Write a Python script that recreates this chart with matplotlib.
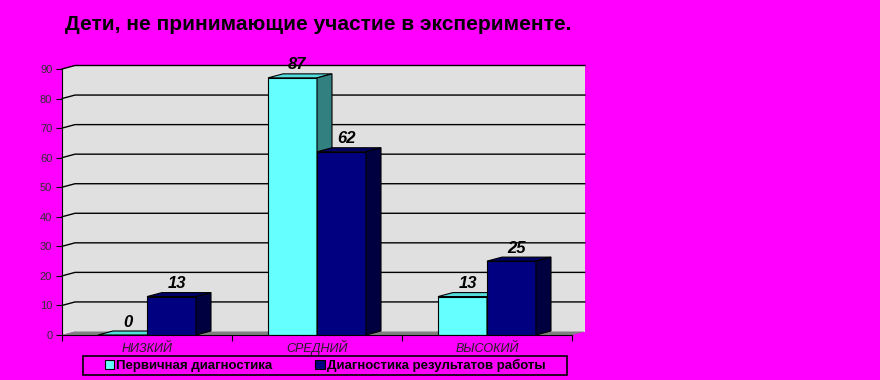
import matplotlib
matplotlib.use('Agg')
import matplotlib.pyplot as plt
from matplotlib.patches import Polygon, Patch, Rectangle
import numpy as np

categories = ['НИЗКИЙ', 'СРЕДНИЙ', 'ВЫСОКИЙ']
series_names = ['Первичная диагностика', 'Диагностика результатов работы']
first_diag = [0, 87, 13]
result_diag = [13, 62, 25]
yticks = [0, 10, 20, 30, 40, 50, 60, 70, 80, 90]

MAGENTA = '#FF00FF'
WALL = '#E0E0E0'
FLOOR = '#808080'
# front, top, side
CYAN = ('#66FFFF', '#55DDDD', '#338080')
NAVY = ('#000080', '#000066', '#000040')

plt.rcParams['font.family'] = ['Liberation Sans', 'DejaVu Sans']

W, H = 880, 380
fig = plt.figure(figsize=(W / 100, H / 100), dpi=100, facecolor=MAGENTA)
ax = fig.add_axes([62 / W, 45 / H, 510 / W, 266 / H])
ax.set_facecolor('none')
ax.set_xlim(-0.5, 2.5)
ax.set_ylim(0, 90)

# pixel -> data scales
px_x = 3 / 510
px_y = 90 / 266
wdx, wdy = 13 * px_x, 3.5 * px_y   # wall depth
bdx, bdy = 15 * px_x, 4 * px_y     # bar depth
bw = 49 * px_x

x0, x1 = ax.get_xlim()
y0, y1 = ax.get_ylim()

# back wall, side wall, floor
ax.add_patch(Polygon([(x0 + wdx, y0 + wdy), (x1 + wdx, y0 + wdy), (x1 + wdx, y1 + wdy), (x0 + wdx, y1 + wdy)],
                     closed=True, facecolor=WALL, edgecolor='none', zorder=0, clip_on=False))
ax.add_patch(Polygon([(x0, y0), (x0 + wdx, y0 + wdy), (x0 + wdx, y1 + wdy), (x0, y1)],
                     closed=True, facecolor=WALL, edgecolor='none', zorder=0, clip_on=False))
for t in yticks[1:]:
    ax.plot([x0, x0 + wdx, x1 + wdx], [t, t + wdy, t + wdy], color='black', lw=1, zorder=0.5, clip_on=False)
ax.add_patch(Polygon([(x0, y0), (x0 + wdx, y0 + wdy), (x1 + wdx, y0 + wdy), (x1, y0)],
                     closed=True, facecolor=FLOOR, edgecolor='none', zorder=0.6, clip_on=False))


def bars3d(xs, vals, colors, z):
    front, top, side = colors
    ax.bar(xs, vals, width=bw, color=front, edgecolor='black', lw=0.8, zorder=z)
    for x, v in zip(xs, vals):
        l, r = x - bw / 2, x + bw / 2
        ax.add_patch(Polygon([(l, v), (l + bdx, v + bdy), (r + bdx, v + bdy), (r, v)], closed=True,
                             facecolor=top, edgecolor='black', lw=0.8, zorder=z, clip_on=False))
        ax.add_patch(Polygon([(r, 0), (r + bdx, bdy), (r + bdx, v + bdy), (r, v)], closed=True,
                             facecolor=side, edgecolor='black', lw=0.8, zorder=z, clip_on=False))
        ax.annotate(str(v), (x + bdx / 3, v + bdy), xytext=(0, 1), textcoords='offset points',
                    ha='center', va='bottom', fontsize=12, fontweight='bold', fontstyle='italic',
                    zorder=10, annotation_clip=False)


pos = np.arange(len(categories))
bars3d(pos - bw / 2, first_diag, CYAN, 2)
bars3d(pos + bw / 2, result_diag, NAVY, 3)

for s in ['top', 'right']:
    ax.spines[s].set_visible(False)
ax.spines['left'].set_zorder(5)
ax.spines['bottom'].set_zorder(5)

ax.set_yticks(yticks)
ax.tick_params(axis='y', length=4, labelsize=8, colors='black', labelcolor='#303030', pad=3)
ax.set_xticks(np.arange(len(categories) + 1) - 0.5)
ax.set_xticklabels([])
ax.tick_params(axis='x', which='major', length=4, direction='out')
for x, c in zip(pos, categories):
    ax.text(x, -17 / 266, c, transform=ax.get_xaxis_transform(), ha='center', va='baseline',
            fontsize=9, fontstyle='italic', color='#202020')

fig.text(65 / W, 1 - 25 / H, 'Дети, не принимающие участие в эксперименте.', fontsize=15,
         fontweight='bold', ha='left', va='center')

handles = [Patch(facecolor=CYAN[0], edgecolor='black', lw=0.8),
           Patch(facecolor=NAVY[0], edgecolor='black', lw=0.8)]
leg = fig.legend(handles, series_names, loc='center', bbox_to_anchor=(325 / W, 1 - 365.5 / H), ncol=2,
                 frameon=False, prop={'size': 9.5, 'weight': 'bold'}, handlelength=0.75, handleheight=0.75,
                 handletextpad=0.15, columnspacing=3.2, borderpad=0.2, borderaxespad=0)
fig.patches.append(Rectangle((83 / W, 1 - 375 / H), 484 / W, 19 / H, transform=fig.transFigure,
                             facecolor='none', edgecolor='black', lw=1.2))

fig.savefig('out.png', dpi=100, facecolor=MAGENTA)
